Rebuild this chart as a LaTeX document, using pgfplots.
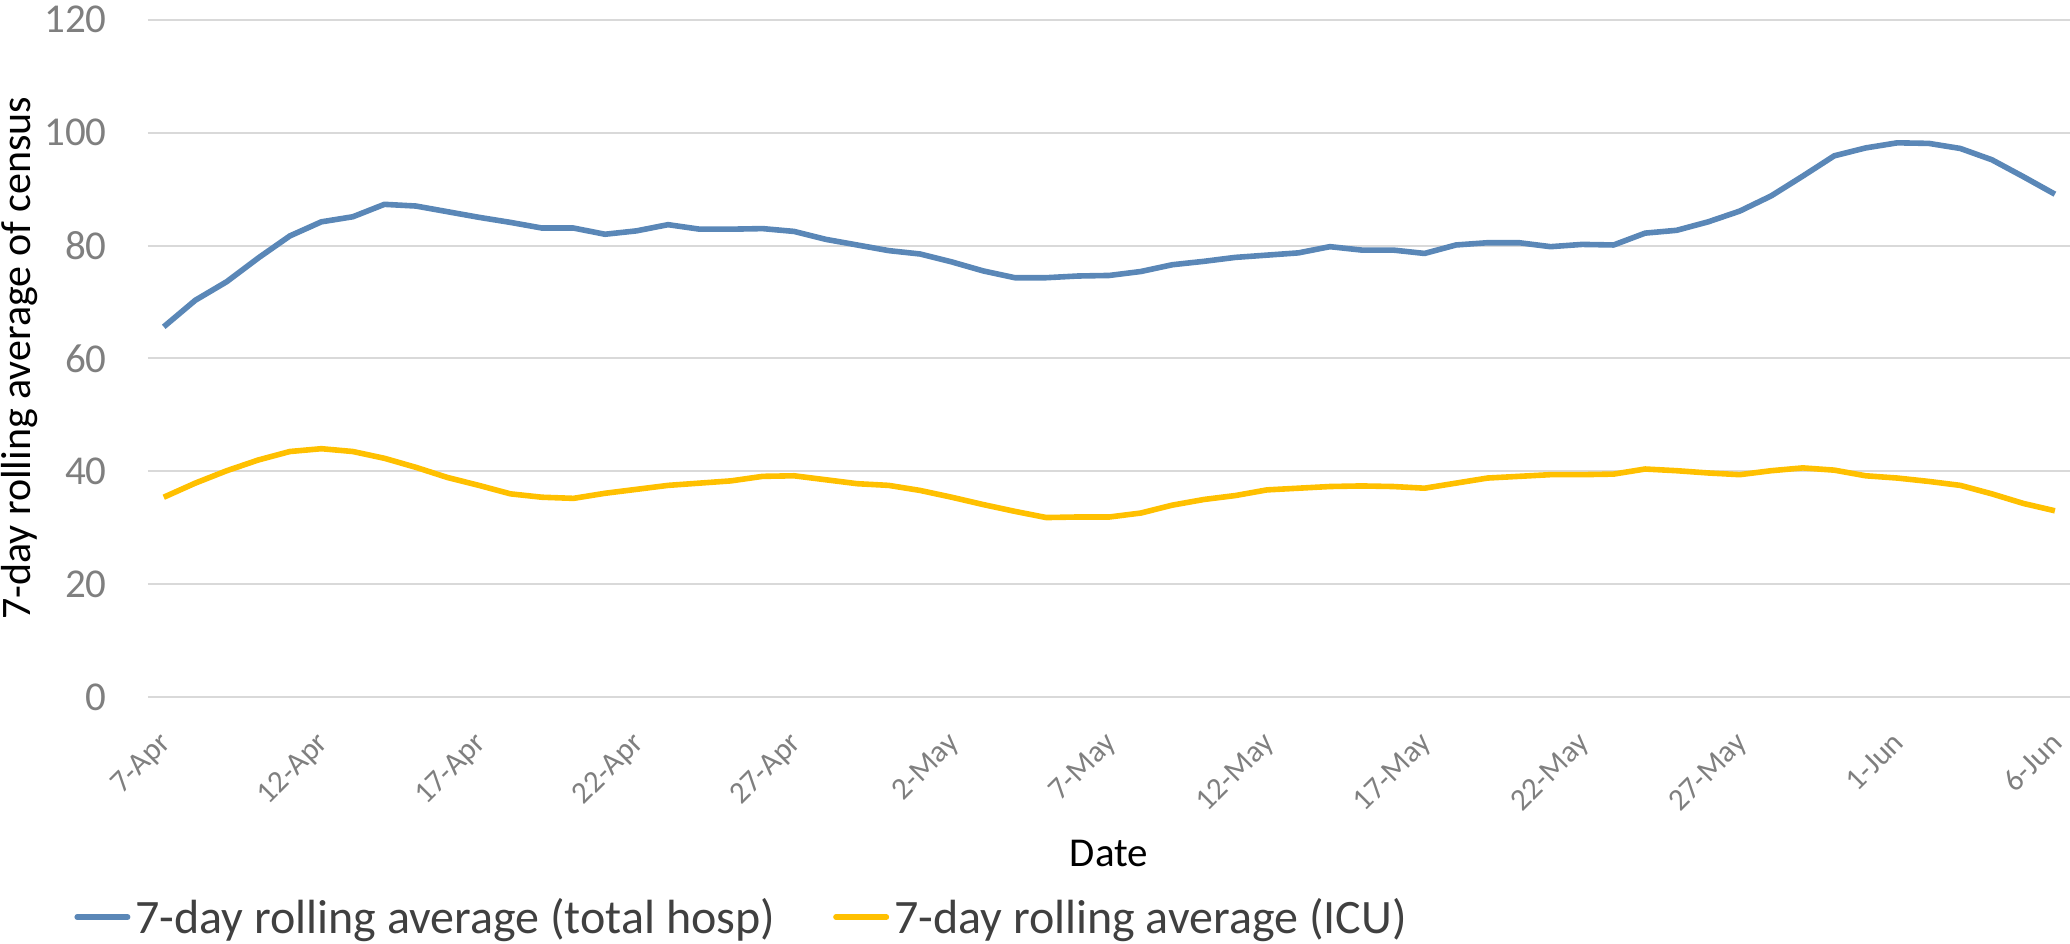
\documentclass[border=0pt]{standalone}
\usepackage{fontspec}
\setmainfont{Carlito}
\usepackage{pgfplots}
\pgfplotsset{compat=1.18}
\definecolor{cblue}{HTML}{5A87B7}
\definecolor{cgold}{HTML}{FFC000}
\definecolor{ctick}{HTML}{7F7F7F}
\definecolor{cgrid}{HTML}{D9D9D9}
\definecolor{clegend}{HTML}{404040}
\begin{document}
\begin{tikzpicture}
\path[use as bounding box] (-74pt,-123pt) rectangle (961pt,348.5pt);
\begin{axis}[
  at={(0pt,0pt)}, anchor=south west,
  scale only axis, width=961pt, height=338.6pt,
  xmin=-0.5, xmax=60.48, ymin=0, ymax=120,
  axis line style={draw=none},
  major tick length=0pt,
  tick style={draw=none},
  ytick={0,20,...,120},
  ymajorgrids, grid style={cgrid, line width=1pt},
  xtick={0,5,...,60},
  xticklabels={7-Apr,12-Apr,17-Apr,22-Apr,27-Apr,2-May,7-May,12-May,17-May,22-May,27-May,1-Jun,6-Jun},
  /pgf/number format/assume math mode=true,
  yticklabel style={font=\fontsize{20.5}{24}\selectfont, text=ctick, inner sep=0pt, anchor=east, xshift=-20.5pt},
  xticklabel style={font=\fontsize{15.5}{18}\selectfont, text=ctick, inner sep=0pt, xshift=-3pt, yshift=-16.5pt, rotate=45, anchor=north east},
  xlabel={Date},
  xlabel style={font=\fontsize{20.5}{24}\selectfont, at={(axis description cs:0.5,-0.2496)}, anchor=base, inner sep=0pt},
  legend columns=2,
  legend style={draw=none, fill=none, font=\fontsize{24}{28}\selectfont, text=clegend,
    at={(axis description cs:-0.0385,-0.325)}, anchor=west, inner sep=0pt,
    nodes={inner sep=0pt}, column sep=2.5pt,
    /tikz/every even column/.append style={column sep=29pt}},
  legend image code/.code={\draw[#1, line width=2.8pt, line cap=round] (1.4pt,0pt) -- (26.6pt,0pt);},
  clip=false,
]
\addplot[cblue, line width=2.8pt, line join=round] coordinates {
(0,65.6)(1,70.3)(2,73.6)(3,77.8)(4,81.7)(5,84.2)(6,85.1)(7,87.3)(8,87.0)(9,86.0)
(10,85.0)(11,84.1)(12,83.1)(13,83.1)(14,82.0)(15,82.6)(16,83.7)(17,82.9)(18,82.9)(19,83.0)
(20,82.5)(21,81.1)(22,80.1)(23,79.1)(24,78.5)(25,77.1)(26,75.5)(27,74.3)(28,74.3)(29,74.6)
(30,74.7)(31,75.4)(32,76.6)(33,77.2)(34,77.9)(35,78.3)(36,78.7)(37,79.8)(38,79.2)(39,79.2)
(40,78.6)(41,80.1)(42,80.5)(43,80.5)(44,79.8)(45,80.2)(46,80.1)(47,82.2)(48,82.7)(49,84.2)
(50,86.1)(51,88.8)(52,92.3)(53,95.9)(54,97.3)(55,98.2)(56,98.1)(57,97.2)(58,95.2)(59,92.2)
(60,89.1)};
\addlegendentry{7-day rolling average (total hosp)}
\addplot[cgold, line width=2.8pt, line join=round] coordinates {
(0,35.4)(1,37.9)(2,40.1)(3,42.0)(4,43.5)(5,44.0)(6,43.5)(7,42.3)(8,40.7)(9,38.9)
(10,37.5)(11,36.0)(12,35.4)(13,35.2)(14,36.1)(15,36.8)(16,37.5)(17,37.9)(18,38.3)(19,39.1)
(20,39.2)(21,38.5)(22,37.8)(23,37.5)(24,36.6)(25,35.4)(26,34.1)(27,32.9)(28,31.8)(29,31.9)
(30,31.9)(31,32.6)(32,34.0)(33,35.0)(34,35.7)(35,36.7)(36,37.0)(37,37.3)(38,37.4)(39,37.3)
(40,37.0)(41,37.9)(42,38.8)(43,39.1)(44,39.4)(45,39.4)(46,39.5)(47,40.4)(48,40.1)(49,39.7)
(50,39.4)(51,40.1)(52,40.6)(53,40.2)(54,39.2)(55,38.8)(56,38.2)(57,37.5)(58,36.0)(59,34.3)
(60,33.0)};
\addlegendentry{7-day rolling average (ICU)}
\node[rotate=90, anchor=base, inner sep=0pt, font=\fontsize{21}{25}\selectfont] at (axis description cs:-0.0609,0.5) {7-day rolling average of census};
\end{axis}
\end{tikzpicture}
\end{document}
